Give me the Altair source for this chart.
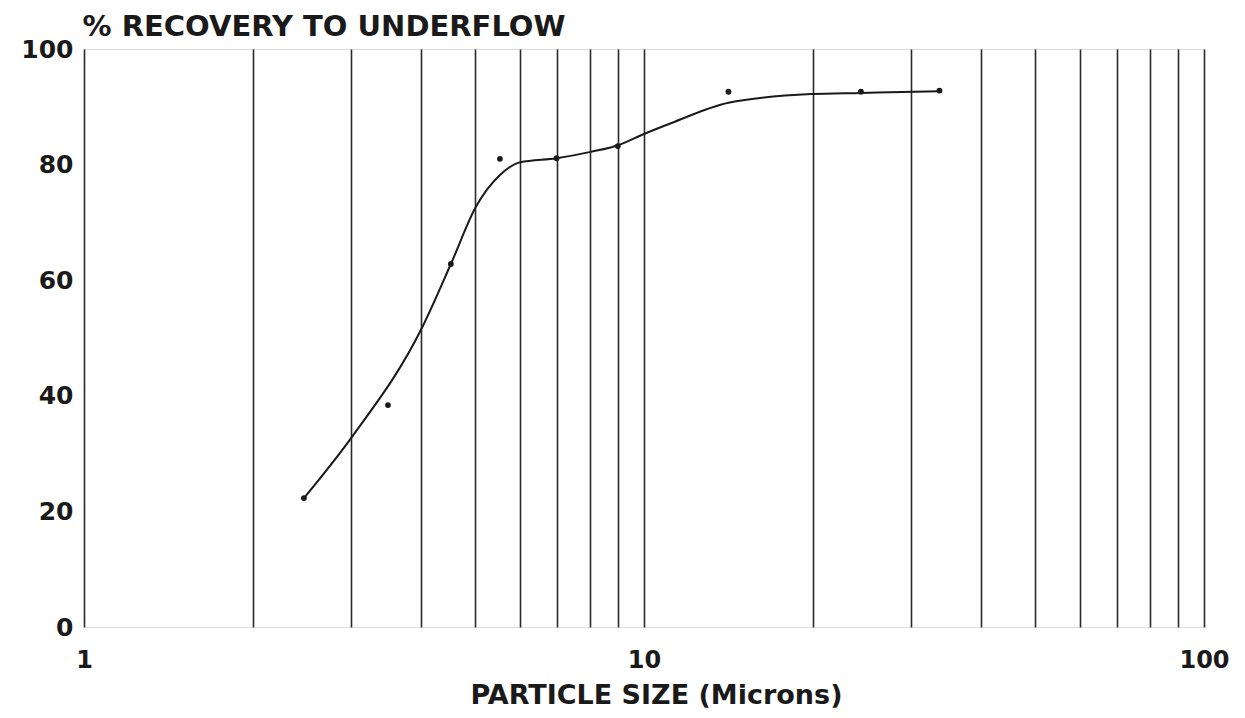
import altair as alt
import pandas as pd

# Measured points
point_size = [2.47, 3.49, 4.52, 5.53, 6.98, 8.98, 14.15, 24.4, 33.7]
point_recovery = [22.3, 38.4, 62.8, 81.0, 81.1, 83.2, 92.6, 92.6, 92.8]

# Smoothed fitted curve
curve_size = [2.47, 3.01, 4.02, 4.52, 5.01, 5.53, 6.01, 6.98, 8.03, 9.02, 10.0, 11.2, 14.15, 19.9, 24.4, 33.7]
curve_recovery = [22.3, 32.9, 51.9, 62.8, 72.7, 78.2, 80.4, 81.1, 82.2, 83.4, 85.3, 87.2, 90.7, 92.2, 92.4, 92.7]

# Axis values
x_grid = [1, 2, 3, 4, 5, 6, 7, 8, 9, 10, 20, 30, 40, 50, 60, 70, 80, 90, 100]
y_ticks = [0, 20, 40, 60, 80, 100]

pts = pd.DataFrame({"size": point_size, "recovery": point_recovery})
crv = pd.DataFrame({"size": curve_size, "recovery": curve_recovery})

FONT = "DejaVu Sans"
INK = "#1a1a1a"

x_enc = alt.X(
    "size:Q",
    scale=alt.Scale(type="log", domain=[1, 100], nice=False),
    axis=alt.Axis(
        values=x_grid,
        labelExpr="(datum.value==1||datum.value==10||datum.value==100) ? datum.value : ''",
        grid=True,
        gridColor="#2a2a2a",
        gridWidth=1.6,
        gridOpacity=1,
        ticks=False,
        domain=False,
        labelOverlap=False,
        labelFlush=False,
        labelFont=FONT,
        labelFontSize=24,
        labelFontWeight="bold",
        labelColor=INK,
        labelPadding=21,
        title="PARTICLE SIZE (Microns)",
        titleFont=FONT,
        titleFontSize=27,
        titleFontWeight="bold",
        titleColor=INK,
        titleX=572,
        titleY=76,
        titleAlign="center",
        titleBaseline="alphabetic",
    ),
)
y_enc = alt.Y(
    "recovery:Q",
    scale=alt.Scale(domain=[0, 100], nice=False),
    axis=alt.Axis(
        values=y_ticks,
        grid=False,
        ticks=False,
        domain=False,
        labelFont=FONT,
        labelFontSize=25,
        labelFontWeight="bold",
        labelColor=INK,
        labelPadding=11,
        title="% RECOVERY TO UNDERFLOW",
        titleFont=FONT,
        titleFontSize=29,
        titleFontWeight="bold",
        titleColor=INK,
        titleAngle=0,
        titleAlign="left",
        titleBaseline="alphabetic",
        titleX=-2,
        titleY=-14,
    ),
)

curve = alt.Chart(crv).mark_line(
    interpolate="monotone", color=INK, strokeWidth=2
).encode(x=x_enc, y=y_enc)

points = alt.Chart(pts).mark_circle(color=INK, size=34, opacity=1).encode(
    x=alt.X("size:Q"), y=alt.Y("recovery:Q")
)

chart = (
    alt.layer(curve, points)
    .properties(
        width=1120,
        height=578,
        autosize=alt.AutoSizeParams(type="none"),
        padding={"left": 76, "top": 41, "right": 30, "bottom": 85},
    )
    .configure_view(stroke=INK, strokeWidth=2)
    .configure(background="white")
)

chart.save("out.html", embed_options={"renderer": "svg", "actions": False})
